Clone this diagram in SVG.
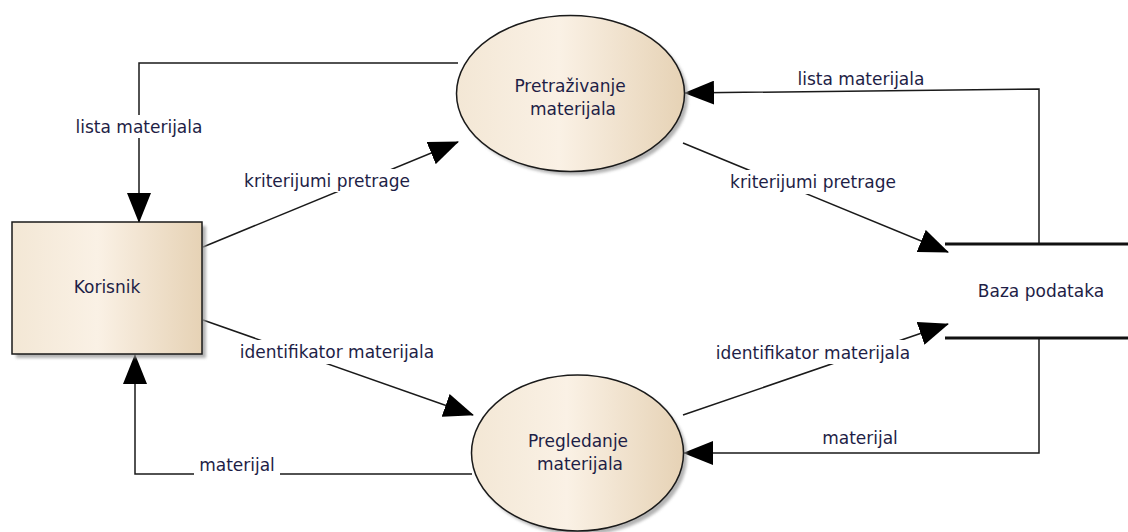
<svg xmlns="http://www.w3.org/2000/svg" width="1128" height="532" viewBox="0 0 1128 532">
  <defs>
    <linearGradient id="fillBeige" x1="0" y1="0" x2="1" y2="0">
      <stop offset="0" stop-color="#f3e7d5"/>
      <stop offset="0.45" stop-color="#faf1e5"/>
      <stop offset="1" stop-color="#e6d2b5"/>
    </linearGradient>
    <filter id="shadowBlur" x="-10%" y="-10%" width="120%" height="120%">
      <feGaussianBlur stdDeviation="1.6"/>
    </filter>
    <marker id="arrow" markerUnits="userSpaceOnUse" viewBox="0 0 30 24" refX="29" refY="12" markerWidth="30" markerHeight="24" orient="auto">
      <path d="M0,0 L30,12 L0,24 Z" fill="#000"/>
    </marker>
  </defs>
  <style>
    .flow { fill: none; stroke: #1a1a1a; stroke-width: 1.5; }
    .flowArrow { marker-end: url(#arrow); }
    .shape { fill: url(#fillBeige); stroke: #1a1a1a; stroke-width: 1.5; }
    .shadow { fill: #9a9a9a; opacity: 0.75; filter: url(#shadowBlur); }
    .store { stroke: #111; stroke-width: 3; }
    .txt { font-family: "DejaVu Sans", Verdana, sans-serif; font-size: 17px; fill: #1e1e46; text-anchor: middle; }
    .lblbg { fill: #fff; }
  </style>

  <rect width="1128" height="532" fill="#fff"/>

  <!-- data flows -->
  <g id="connectors">
    <!-- Pretraživanje -> Korisnik : lista materijala -->
    <path class="flow flowArrow" d="M458,63 H139 V222"/>
    <!-- Korisnik -> Pretraživanje : kriterijumi pretrage -->
    <path class="flow flowArrow" d="M203,247 L458,142"/>
    <!-- Pretraživanje -> Baza : kriterijumi pretrage -->
    <path class="flow flowArrow" d="M683,143 L948,252"/>
    <!-- Baza -> Pretraživanje : lista materijala -->
    <path class="flow flowArrow" d="M1039,244 V89 L685,93"/>
    <!-- Korisnik -> Pregledanje : identifikator materijala -->
    <path class="flow flowArrow" d="M203,320 L473,415"/>
    <!-- Pregledanje -> Baza : identifikator materijala -->
    <path class="flow flowArrow" d="M683,415 L948,324"/>
    <!-- Baza -> Pregledanje : materijal -->
    <path class="flow flowArrow" d="M1039,338 V453 H684"/>
    <!-- Pregledanje -> Korisnik : materijal -->
    <path class="flow flowArrow" d="M472,474 H135 V355"/>

    <!-- flow labels -->
    <rect class="lblbg" x="71" y="115" width="135" height="23"/>
    <text class="txt" x="139" y="133">lista materijala</text>

    <rect class="lblbg" x="242" y="169" width="170" height="23"/>
    <text class="txt" x="327" y="187">kriterijumi pretrage</text>

    <rect class="lblbg" x="728" y="170" width="171" height="24"/>
    <text class="txt" x="813" y="188">kriterijumi pretrage</text>

    <text class="txt" x="861" y="85">lista materijala</text>

    <rect class="lblbg" x="235" y="340" width="204" height="24"/>
    <text class="txt" x="337" y="358">identifikator materijala</text>

    <rect class="lblbg" x="711" y="340" width="204" height="24"/>
    <text class="txt" x="813" y="359">identifikator materijala</text>

    <text class="txt" x="860" y="444">materijal</text>

    <rect class="lblbg" x="194" y="458" width="86" height="20"/>
    <text class="txt" x="237" y="471">materijal</text>
  </g>

  <!-- external entity -->
  <g id="korisnik">
    <rect class="shadow" x="16" y="226" width="190" height="132"/>
    <rect class="shape" x="12" y="222" width="190" height="132"/>
    <text class="txt" x="107" y="293">Korisnik</text>
  </g>

  <!-- processes -->
  <g id="pretrazivanje">
    <ellipse class="shadow" cx="574" cy="97" rx="114" ry="78"/>
    <ellipse class="shape" cx="570.5" cy="93.5" rx="114" ry="78"/>
    <text class="txt" x="570" y="92">Pretraživanje</text>
    <text class="txt" x="573" y="115">materijala</text>
  </g>

  <g id="pregledanje">
    <ellipse class="shadow" cx="581" cy="457" rx="106" ry="78"/>
    <ellipse class="shape" cx="577.5" cy="453" rx="106" ry="78"/>
    <text class="txt" x="578" y="447">Pregledanje</text>
    <text class="txt" x="580" y="470">materijala</text>
  </g>

  <!-- data store -->
  <g id="baza">
    <line class="store" x1="945" y1="244" x2="1128" y2="244"/>
    <line class="store" x1="945" y1="338" x2="1128" y2="338"/>
    <text class="txt" x="1041" y="297">Baza podataka</text>
  </g>
</svg>
